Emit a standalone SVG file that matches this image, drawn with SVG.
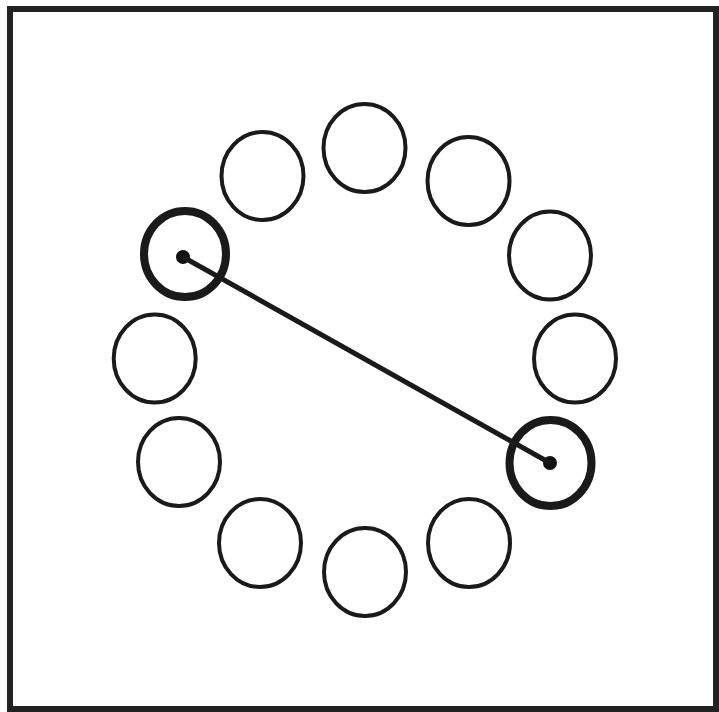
<svg xmlns="http://www.w3.org/2000/svg" width="719" height="712" viewBox="0 0 719 712">
<style>
.c{fill:none;stroke:#1a1a1a;stroke-width:4}
.t{fill:none;stroke:#1a1a1a;stroke-width:8}
.d{fill:#111}
</style>
<rect x="0" y="0" width="719" height="712" fill="#fff"/>
<rect id="frame" x="10" y="9" width="706" height="700" fill="none" stroke="#222" stroke-width="6"/>
<g id="n1"><ellipse class="c" cx="364.5" cy="148" rx="41" ry="44"/></g>
<g id="n2"><ellipse class="c" cx="468.5" cy="181" rx="41" ry="44"/></g>
<g id="n3"><ellipse class="c" cx="550" cy="255.5" rx="41" ry="44"/></g>
<g id="n4"><ellipse class="c" cx="575" cy="358.5" rx="41" ry="44"/></g>
<g id="n5"><ellipse class="t" cx="550.5" cy="463" rx="41" ry="43"/><circle class="d" cx="550" cy="463" r="7"/></g>
<g id="n6"><ellipse class="c" cx="469" cy="543" rx="41" ry="44"/></g>
<g id="n7"><ellipse class="c" cx="365" cy="572" rx="41" ry="44"/></g>
<g id="n8"><ellipse class="c" cx="260" cy="543" rx="41" ry="44"/></g>
<g id="n9"><ellipse class="c" cx="179" cy="462" rx="41" ry="44"/></g>
<g id="n10"><ellipse class="c" cx="154.7" cy="358.5" rx="41" ry="44"/></g>
<g id="n11"><ellipse class="t" cx="185" cy="254" rx="41" ry="43"/><circle class="d" cx="183" cy="257" r="7"/></g>
<g id="n12"><ellipse class="c" cx="262.5" cy="176" rx="41" ry="44"/></g>
<g id="connectors"><line x1="183" y1="257" x2="550" y2="463" stroke="#1a1a1a" stroke-width="5"/></g>
</svg>
